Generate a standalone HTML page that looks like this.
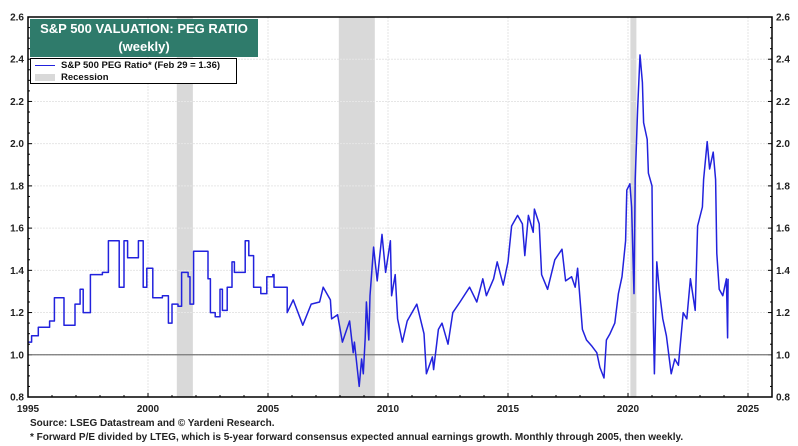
<!DOCTYPE html>
<html><head><meta charset="utf-8"><style>
body{margin:0;background:#fff;}
svg{display:block;font-family:"Liberation Sans",Arial,sans-serif;}
</style></head><body>
<svg id="chart" width="798" height="446" viewBox="0 0 798 446"></svg>
<script>
const years=[1995.0,1995.15,1995.43,1995.9,1996.1,1996.5,1996.96,1997.17,1997.3,1997.6,1998.1,1998.35,1998.6,1998.8,1999.0,1999.15,1999.6,1999.8,1999.95,2000.2,2000.6,2000.85,2001.0,2001.25,2001.4,2001.67,2001.75,2001.9,2002.3,2002.5,2002.6,2002.8,2003.0,2003.1,2003.3,2003.5,2003.6,2004.05,2004.2,2004.4,2004.7,2004.95,2005.2,2005.25,2005.6,2005.8,2006.05,2006.45,2006.8,2007.15,2007.3,2007.6,2007.65,2007.9,2008.1,2008.4,2008.55,2008.6,2008.8,2008.9,2008.97,2009.05,2009.1,2009.2,2009.25,2009.4,2009.55,2009.75,2009.9,2010.1,2010.15,2010.3,2010.4,2010.6,2010.8,2011.2,2011.35,2011.5,2011.6,2011.85,2011.9,2012.1,2012.25,2012.5,2012.7,2013.0,2013.4,2013.7,2013.95,2014.1,2014.4,2014.55,2014.8,2015.0,2015.15,2015.4,2015.6,2015.7,2015.85,2016.05,2016.1,2016.3,2016.4,2016.65,2016.95,2017.25,2017.4,2017.65,2017.8,2017.9,2018.1,2018.27,2018.5,2018.7,2018.83,2019.0,2019.1,2019.25,2019.45,2019.6,2019.75,2019.9,2019.95,2020.08,2020.15,2020.25,2020.3,2020.4,2020.5,2020.6,2020.65,2020.8,2020.85,2021.0,2021.05,2021.1,2021.2,2021.3,2021.45,2021.6,2021.8,2021.95,2022.1,2022.3,2022.45,2022.6,2022.8,2022.9,2023.1,2023.15,2023.3,2023.4,2023.55,2023.65,2023.7,2023.8,2023.95,2024.1,2024.15,2024.17];
const pegValues=[1.06,1.09,1.13,1.16,1.27,1.14,1.24,1.31,1.20,1.38,1.39,1.54,1.54,1.32,1.54,1.46,1.54,1.32,1.41,1.27,1.28,1.15,1.24,1.23,1.39,1.37,1.24,1.49,1.49,1.36,1.20,1.18,1.31,1.21,1.32,1.44,1.39,1.54,1.47,1.32,1.29,1.37,1.38,1.32,1.32,1.20,1.26,1.14,1.24,1.25,1.32,1.26,1.17,1.19,1.06,1.16,1.01,1.06,0.85,0.98,0.91,1.08,1.25,1.07,1.28,1.51,1.35,1.57,1.39,1.54,1.28,1.38,1.17,1.06,1.16,1.24,1.17,1.10,0.91,0.99,0.93,1.12,1.15,1.05,1.20,1.25,1.32,1.25,1.36,1.28,1.36,1.44,1.33,1.44,1.61,1.66,1.62,1.47,1.66,1.58,1.69,1.62,1.38,1.31,1.45,1.50,1.35,1.37,1.32,1.41,1.12,1.07,1.04,1.01,0.94,0.89,1.07,1.10,1.15,1.29,1.37,1.54,1.78,1.81,1.70,1.29,1.83,2.16,2.42,2.29,2.10,2.02,1.86,1.80,1.18,0.91,1.44,1.31,1.17,1.09,0.91,0.98,0.95,1.20,1.17,1.36,1.21,1.61,1.70,1.83,2.01,1.88,1.96,1.83,1.48,1.31,1.28,1.36,1.08,1.36];
const recStart=[2001.2,2007.95,2020.1];
const recEnd=[2001.87,2009.45,2020.35];
const yTicks=[0.8,1.0,1.2,1.4,1.6,1.8,2.0,2.2,2.4,2.6];
const xTicks=[1995,2000,2005,2010,2015,2020,2025];

const L=28,R=772,T=17,B=397;
const X0=1995,X1=1995+(R-L)/24;
const xs=v=>L+(v-X0)/(X1-X0)*(R-L);
const ys=v=>B-(v-0.8)/1.8*(B-T);
const svg=document.getElementById('chart');
const NS='http://www.w3.org/2000/svg';
function mk(tag,attrs,parent){const e=document.createElementNS(NS,tag);for(const k in attrs)e.setAttribute(k,attrs[k]);(parent||svg).appendChild(e);return e;}

recStart.forEach((s,i)=>{
  const r=mk('rect',{x:xs(s),y:T,width:xs(recEnd[i])-xs(s),height:B-T,fill:'#d9d9d9'});
  
  
});
yTicks.forEach(v=>{
  if(v>0.8&&v<2.6){const g=mk('line',{x1:L,x2:R,y1:ys(v),y2:ys(v),stroke:'#e6e6e6','stroke-width':1,'stroke-dasharray':'2,1'});
  }
  const t1=mk('text',{x:24,y:ys(v)+3.5,'text-anchor':'end','font-size':'10','font-weight':'bold',fill:'#222'});t1.textContent=v.toFixed(1);
  
  const t2=mk('text',{x:776,y:ys(v)+3.5,'font-size':'10','font-weight':'bold',fill:'#222'});t2.textContent=v.toFixed(1);
  
});
xTicks.forEach(v=>{
  if(v>1995){const g=mk('line',{x1:xs(v),x2:xs(v),y1:T,y2:B,stroke:'#e6e6e6','stroke-width':1,'stroke-dasharray':'2,1'});
  }
  const t=mk('text',{x:xs(v),y:412,'text-anchor':'middle','font-size':'10','font-weight':'bold',fill:'#222'});t.textContent=v;
  
});
for(let yv=1995;yv<=2025;yv++){mk('line',{x1:xs(yv),x2:xs(yv),y1:B,y2:B-(yv%5?2:4),stroke:'#000'});}
for(let k=0;k<=36;k++){const v=0.8+k*0.05;mk('line',{x1:L,x2:L+(k%4?2:4),y1:ys(v),y2:ys(v),stroke:'#000'});mk('line',{x1:R,x2:R-(k%4?2:4),y1:ys(v),y2:ys(v),stroke:'#000'});}
const ref=mk('line',{x1:L,x2:R,y1:ys(1.0),y2:ys(1.0),stroke:'#777','stroke-width':1.2});

let d='';years.forEach((yv,i)=>{
  const x=xs(yv).toFixed(1),y=ys(pegValues[i]).toFixed(1);
  if(i===0)d+='M'+x+','+y;
  else if(yv<=2006)d+='H'+x+'V'+y;
  else d+='L'+x+','+y;
});
const p=mk('path',{d:d,fill:'none',stroke:'#2222dd','stroke-width':1.5,'stroke-linejoin':'round'});

const fr=mk('rect',{x:L,y:T,width:R-L,height:B-T,fill:'none',stroke:'#000','stroke-width':1.5});

</script>
<div style="position:absolute;left:30px;top:19px;width:228px;height:38px;background:#2f7b6b;color:#fff;font:bold 13px 'Liberation Sans',sans-serif;text-align:center;line-height:18px;padding-top:1px;box-sizing:border-box;">S&amp;P 500 VALUATION: PEG RATIO<br>(weekly)</div>
<div style="position:absolute;left:30px;top:58px;width:207px;height:26px;background:#fff;border:1px solid #000;box-sizing:border-box;font:bold 9.5px 'Liberation Sans',sans-serif;color:#111;">
<div style="position:absolute;left:4px;top:1px;white-space:nowrap;"><span style="display:inline-block;width:20px;height:1px;background:#2222dd;vertical-align:middle;margin-right:6px;"></span>S&amp;P 500 PEG Ratio* (Feb 29 = 1.36)</div>
<div style="position:absolute;left:4px;top:13px;white-space:nowrap;"><span style="display:inline-block;width:20px;height:7px;background:#d9d9d9;vertical-align:middle;margin-right:6px;"></span>Recession</div>
</div>
<div style="position:absolute;left:30px;top:418px;font:bold 10px 'Liberation Sans',sans-serif;color:#222;white-space:nowrap;">Source: LSEG Datastream and © Yardeni Research.</div>
<div style="position:absolute;left:30px;top:432px;font:bold 10px 'Liberation Sans',sans-serif;color:#222;white-space:nowrap;">* Forward P/E divided by LTEG, which is 5-year forward consensus expected annual earnings growth. Monthly through 2005, then weekly.</div>
</body></html>
